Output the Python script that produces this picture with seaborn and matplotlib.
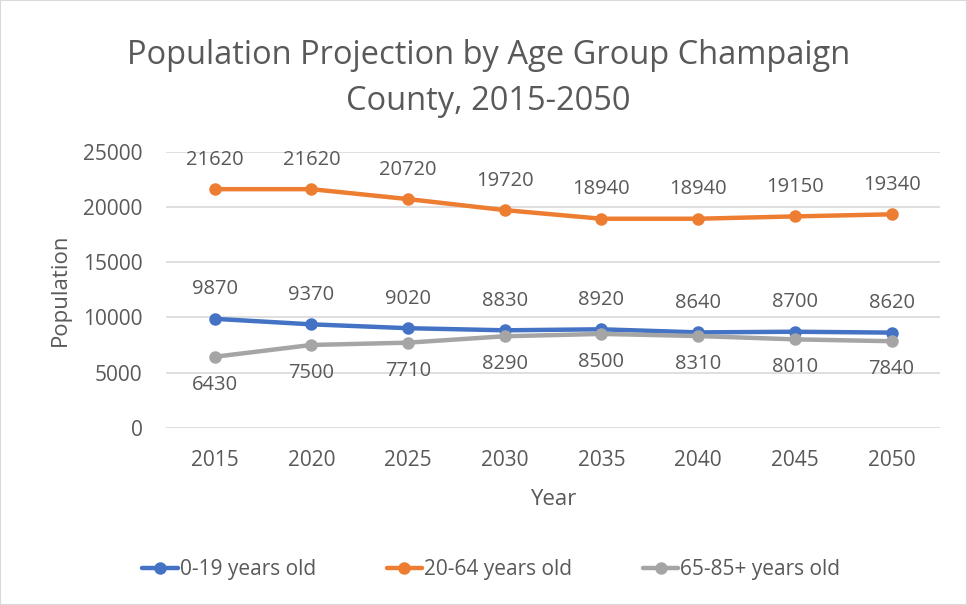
import pandas as pd
import matplotlib.pyplot as plt
import seaborn as sns

# Data
years = [2015, 2020, 2025, 2030, 2035, 2040, 2045, 2050]
age_0_19 = [9870, 9370, 9020, 8830, 8920, 8640, 8700, 8620]
age_20_64 = [21620, 21620, 20720, 19720, 18940, 18940, 19150, 19340]
age_65_plus = [6430, 7500, 7710, 8290, 8500, 8310, 8010, 7840]
groups = ["0-19 years old", "20-64 years old", "65-85+ years old"]
colors = ["#4472C4", "#ED7D31", "#A5A5A5"]

df = pd.DataFrame({
    "Year": [str(y) for y in years] * 3,
    "Population": age_0_19 + age_20_64 + age_65_plus,
    "Group": [g for g in groups for _ in years],
})

sns.set_theme(style="white")
plt.rcParams["font.family"] = ["Open Sans", "DejaVu Sans"]
grey = "#595959"

fig = plt.figure(figsize=(9.67, 6.05), dpi=100)
ax = fig.add_axes([0.172, 0.293, 0.800, 0.456])

sns.lineplot(data=df, x="Year", y="Population", hue="Group", palette=colors,
             marker="o", markersize=9, markeredgewidth=0, linewidth=3.2,
             sort=False, ax=ax, zorder=3)

ax.set_xlim(-0.5, len(years) - 0.5)
ax.set_ylim(0, 25000)
ax.set_yticks(range(0, 25001, 5000))
ax.yaxis.grid(True, color="#D9D9D9", linewidth=1.2)
ax.xaxis.grid(False)
for s in ax.spines.values():
    s.set_visible(False)
ax.tick_params(axis="both", length=0, labelsize=15, labelcolor=grey)
ax.tick_params(axis="y", pad=17)
ax.tick_params(axis="x", pad=16)
ax.set_xlabel("Year", fontsize=16, color=grey, labelpad=13)
ax.set_ylabel("Population", fontsize=16, color=grey, labelpad=9)

# data labels
for i, v in enumerate(age_20_64):
    ax.annotate(str(v), (i, v), xytext=(0, 14), textcoords="offset points",
                ha="center", va="bottom", fontsize=14.5, color=grey)
for i, v in enumerate(age_0_19):
    ax.annotate(str(v), (i, v), xytext=(0, 14), textcoords="offset points",
                ha="center", va="bottom", fontsize=14.5, color=grey)
for i, v in enumerate(age_65_plus):
    ax.annotate(str(v), (i, v), xytext=(0, -13), textcoords="offset points",
                ha="center", va="top", fontsize=14.5, color=grey)

fig.suptitle("Population Projection by Age Group Champaign\nCounty, 2015-2050",
             x=0.505, y=0.935, fontsize=23.5, color=grey, linespacing=1.5)

handles, labels = ax.get_legend_handles_labels()
ax.legend_.remove()
fig.legend(handles, labels, loc="center", bbox_to_anchor=(0.508, 0.058), ncol=3,
           frameon=False, fontsize=15, labelcolor=grey, handlelength=1.7,
           handletextpad=0.1, columnspacing=3.4)

fig.patches.append(plt.Rectangle((0, 0), 1, 1, transform=fig.transFigure,
                                 fill=False, edgecolor="#D9D9D9", linewidth=1.5))

fig.savefig("out.png", dpi=100)
